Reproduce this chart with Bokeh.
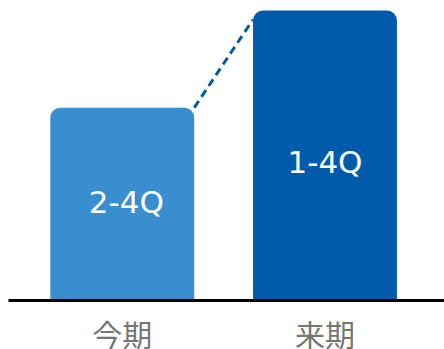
from bokeh.plotting import figure
from bokeh.models import Range1d, FixedTicker, ColumnDataSource
from bokeh.embed import file_html
from bokeh.resources import INLINE
from bokeh.core.properties import value

categories = ["今期", "来期"]
bar_labels = ["2-4Q", "1-4Q"]
values = [66.5, 100.0]
colors = ["#388ECE", "#005BAC"]

xs = list(range(len(categories)))
bar_w = 0.71
frame_h = 300
y_end = 103.45

p = figure(frame_width=436, frame_height=frame_h, output_backend="svg", toolbar_location=None,
           x_range=Range1d(-0.5614, 1.5896), y_range=Range1d(0, y_end),
           min_border_left=8, min_border_right=0, min_border_top=0, min_border_bottom=0)
p.outline_line_color = None
p.grid.visible = False
p.yaxis.visible = False
p.background_fill_color = "white"

# dashed connector from top-right of first bar to top-left of second bar
y_per_px = y_end / frame_h
p.line(x=[xs[0] + bar_w / 2, xs[1] - bar_w / 2],
       y=[values[0], values[1] - 9 * y_per_px],
       line_color=colors[1], line_width=3, line_dash="8 5")

src = ColumnDataSource(dict(x=xs, top=values, color=colors, label=bar_labels,
                            ymid=[v / 2 for v in values],
                            dx=[4, 0], dy=[-2, 6]))
p.vbar(x="x", top="top", bottom=0, width=bar_w, fill_color="color", line_color=None,
       border_radius=(10, 10, 0, 0), source=src)
p.text(x="x", y="ymid", text="label", source=src, text_color="white",
       x_offset="dx", y_offset="dy",
       text_font=value("DejaVu Sans"), text_font_size="31px",
       text_align="center", text_baseline="middle")

ax = p.xaxis[0]
ax.ticker = FixedTicker(ticks=xs)
ax.major_label_overrides = {i: c for i, c in zip(xs, categories)}
ax.major_tick_line_color = None
ax.minor_tick_line_color = None
ax.axis_line_color = "black"
ax.axis_line_width = 3
ax.major_label_text_font = "Noto Sans CJK JP"
ax.major_label_text_font_size = "30px"
ax.major_label_text_color = "#757575"
ax.major_label_text_line_height = 0.8
ax.major_label_standoff = 4

open("out.html", "w").write(file_html(p, INLINE))
